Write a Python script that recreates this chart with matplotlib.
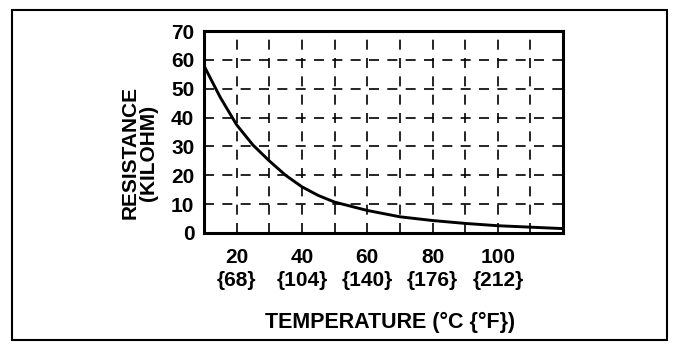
import matplotlib.pyplot as plt
from matplotlib.patches import Rectangle

plt.rcParams['font.family'] = ['Liberation Sans', 'DejaVu Sans']
plt.rcParams['font.weight'] = 'bold'

# resistance curve
temp_c = [10, 15, 20, 25, 30, 35, 40, 45, 50, 60, 70, 80, 90, 100, 110, 120]
resistance = [58, 47, 37.5, 30.5, 25, 20, 16, 13, 10.7, 7.8, 5.6, 4.3, 3.3, 2.5, 2.0, 1.5]

xticks_c = [20, 40, 60, 80, 100]
xticks_f = [68, 104, 140, 176, 212]
yticks = [0, 10, 20, 30, 40, 50, 60, 70]

fig = plt.figure(figsize=(6.88, 3.54), dpi=100)
ax = fig.add_axes([0.2965, 0.342, 0.522, 0.570])

ax.plot(temp_c, resistance, color='black', linewidth=2.1, solid_capstyle='round')

ax.set_xlim(10, 120)
ax.set_ylim(0, 70)

# dashed grid
for gx in range(20, 120, 10):
    ax.axvline(gx, color='black', linewidth=1.2, dashes=(6, 5))
for gy in range(10, 70, 10):
    ax.axhline(gy, color='black', linewidth=1.2, dashes=(6, 5))

ax.set_xticks(xticks_c)
ax.set_xticklabels([f'{c}\n{{{f}}}' for c, f in zip(xticks_c, xticks_f)], linespacing=1.25)
ax.set_yticks(yticks)
ax.tick_params(axis='both', length=0, labelsize=15)
ax.tick_params(axis='x', pad=11)
ax.tick_params(axis='y', pad=7)

for s in ax.spines.values():
    s.set_linewidth(2.2)

fig.text(0.567, 0.088, 'TEMPERATURE (°C {°F})', fontsize=15.5, ha='center', va='center')
fig.text(0.202, 0.568, 'RESISTANCE\n(KILOHM)', fontsize=15, rotation=90,
         ha='center', va='center', multialignment='center', linespacing=0.95)

# outer frame around the whole figure
fig.patches.append(Rectangle((0.0174, 0.0395), 0.952, 0.932, transform=fig.transFigure,
                             fill=False, edgecolor='black', linewidth=1.5))

fig.savefig('out.png', dpi=100)
